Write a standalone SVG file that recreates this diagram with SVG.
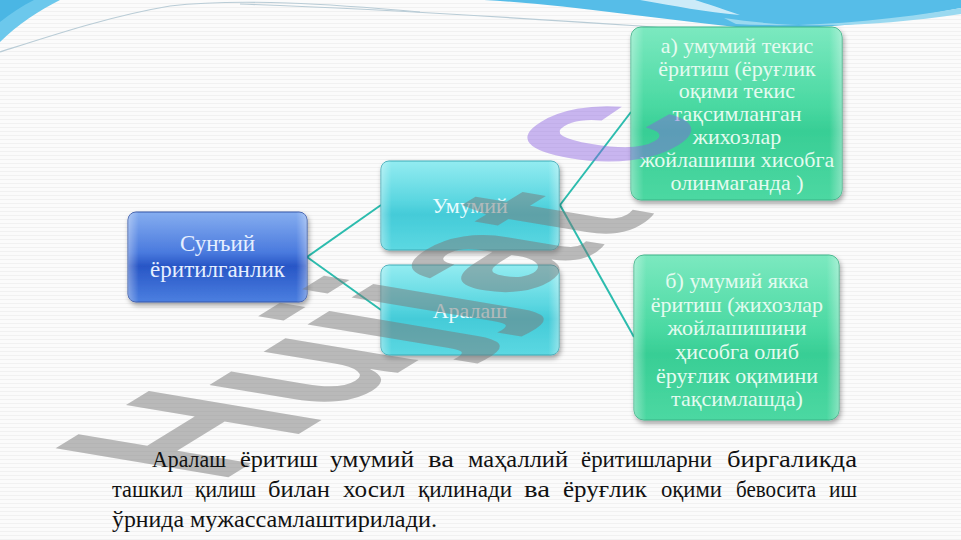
<svg xmlns="http://www.w3.org/2000/svg" width="961" height="540" viewBox="0 0 961 540">
<defs>
  <pattern id="stripes" width="8" height="4" patternUnits="userSpaceOnUse">
    <rect width="8" height="4" fill="#fbfbfb"/>
    <rect y="3" width="8" height="1" fill="#f1f1f1"/>
  </pattern>
  <linearGradient id="gBlue" x1="0" y1="0" x2="0" y2="1">
    <stop offset="0" stop-color="#86aef0"/>
    <stop offset="0.45" stop-color="#4a7ade"/>
    <stop offset="0.6" stop-color="#2856c6"/>
    <stop offset="1" stop-color="#4b7fe0"/>
  </linearGradient>
  <linearGradient id="gCyan" x1="0" y1="0" x2="0" y2="1">
    <stop offset="0" stop-color="#93ecf1"/>
    <stop offset="0.45" stop-color="#5ad6e0"/>
    <stop offset="0.6" stop-color="#44cbd8"/>
    <stop offset="1" stop-color="#5cd8e2"/>
  </linearGradient>
  <linearGradient id="gGreen" x1="0" y1="0" x2="0" y2="1">
    <stop offset="0" stop-color="#7ce9c0"/>
    <stop offset="0.45" stop-color="#4ad9a2"/>
    <stop offset="0.6" stop-color="#38ce95"/>
    <stop offset="1" stop-color="#4cd8a2"/>
  </linearGradient>
  <linearGradient id="gSide" x1="0" y1="0" x2="1" y2="0">
    <stop offset="0" stop-color="#ffffff" stop-opacity="0.35"/>
    <stop offset="0.06" stop-color="#ffffff" stop-opacity="0"/>
    <stop offset="0.94" stop-color="#ffffff" stop-opacity="0"/>
    <stop offset="1" stop-color="#ffffff" stop-opacity="0.35"/>
  </linearGradient>
  <filter id="shadow" x="-10%" y="-10%" width="125%" height="130%">
    <feDropShadow dx="1.5" dy="3" stdDeviation="2.5" flood-color="#000" flood-opacity="0.35"/>
  </filter>
  <style>
    .box { stroke-width: 1; filter: url(#shadow); }
    .blue { fill: url(#gBlue); stroke: #3556a8; }
    .cyan { fill: url(#gCyan); stroke: #3aaab6; }
    .green { fill: url(#gGreen); stroke: #3ab386; }
    .sheen { fill: url(#gSide); stroke: none; }
    .t { font-family: "Liberation Serif", "Times New Roman", "DejaVu Serif", serif; text-anchor: middle; }
    .tb { fill: #e6efff; font-size: 23px; }
    .tc { fill: #eafcff; font-size: 22px; }
    .tg { fill: #e4fbf0; font-size: 22px; }
    .tg2 { fill: #e4fbf0; font-size: 22px; }
    .conn { stroke: #2cbcae; stroke-width: 2; fill: none; }
    .para { font-family: "Liberation Serif", "Times New Roman", "DejaVu Serif", serif; font-size: 24px; fill: #111; }
    .wm { font-family: "Liberation Sans", Arial, sans-serif; font-weight: bold; font-size: 100px; }
  </style>
</defs>

<rect width="961" height="540" fill="url(#stripes)"/>

<g id="decor">
  <path d="M0,0 H60 C40,10 18,24 0,42 Z" fill="#6cc8ec"/>
  <path d="M0,0 H34 C22,6 10,14 0,22 Z" fill="#4ab6e4"/>
  <path d="M484,0 C560,4 650,18 736,27 C800,32 880,24 961,8 V0 Z" fill="#56bde8"/>
  <path d="M724,18 C800,30 880,26 961,14 V8 C880,22 800,28 736,24 Z" fill="#9ad9f0"/>
  <path d="M640,0 C675,6 705,12 740,15 C720,8 705,3 695,0 Z" fill="#ffffff" opacity="0.7"/>
  <path d="M0,52 C50,36 110,16 170,6 C240,-2 330,4 420,12" stroke="#b9ccd6" stroke-width="1.2" fill="none"/>
  <path d="M240,4 C360,8 520,18 640,26 C690,30 720,34 740,36" stroke="#b9ccd6" stroke-width="1.2" fill="none"/>
</g>

<g id="connectors">
  <line class="conn" x1="307" y1="257" x2="381" y2="205"/>
  <line class="conn" x1="307" y1="257" x2="381" y2="310"/>
  <line class="conn" x1="560" y1="205" x2="631" y2="112"/>
  <line class="conn" x1="560" y1="205" x2="634" y2="337"/>
</g>

<g id="node-suniy">
  <rect class="box blue" x="128" y="212" width="179" height="90" rx="8"/>
  <rect class="sheen" x="128" y="212" width="179" height="90" rx="8"/>
  <text class="t tb" x="217.5" y="251">Сунъий</text>
  <text class="t tb" x="217.5" y="277">ёритилганлик</text>
</g>

<g id="node-umumiy">
  <rect class="box cyan" x="381" y="161" width="178" height="89" rx="8"/>
  <rect class="sheen" x="381" y="161" width="178" height="89" rx="8"/>
  <text class="t tc" x="470" y="213">Умумий</text>
</g>

<g id="node-aralash">
  <rect class="box cyan" x="381" y="265" width="178" height="90" rx="8"/>
  <rect class="sheen" x="381" y="265" width="178" height="90" rx="8"/>
  <text class="t tc" x="470" y="318">Аралаш</text>
</g>

<g id="node-a">
  <rect class="box green" x="631" y="27" width="211" height="173" rx="10"/>
  <rect class="sheen" x="631" y="27" width="211" height="173" rx="10"/>
  <text class="t tg" x="737" y="53">а) умумий текис</text>
  <text class="t tg" x="737" y="76">ёритиш (ёруғлик</text>
  <text class="t tg" x="737" y="98">оқими текис</text>
  <text class="t tg" x="737" y="121">тақсимланган</text>
  <text class="t tg" x="737" y="144">жихозлар</text>
  <text class="t tg" x="737" y="167">жойлашиши хисобга</text>
  <text class="t tg" x="737" y="190">олинмаганда )</text>
</g>

<g id="node-b">
  <rect class="box green" x="634" y="255" width="205" height="165" rx="10"/>
  <rect class="sheen" x="634" y="255" width="205" height="165" rx="10"/>
  <text class="t tg2" x="737" y="288">б) умумий якка</text>
  <text class="t tg2" x="737" y="312">ёритиш (жихозлар</text>
  <text class="t tg2" x="737" y="335">жойлашишини</text>
  <text class="t tg2" x="737" y="359">ҳисобга олиб</text>
  <text class="t tg2" x="737" y="383">ёруғлик оқимини</text>
  <text class="t tg2" x="737" y="406">тақсимлашда)</text>
</g>

<g id="watermark">
  <text class="wm" transform="matrix(1.585,-0.976,2.51,0.42,217.8,483.7)"><tspan fill="#777777" fill-opacity="0.5">Hujjat</tspan><tspan dx="28" dy="-29" fill="#8a60e0" fill-opacity="0.45">c</tspan></text>
</g>

<g id="paragraph">
  <text class="para" x="152" y="467" textLength="74" lengthAdjust="spacingAndGlyphs">Аралаш</text>
  <text class="para" x="240" y="467" textLength="78" lengthAdjust="spacingAndGlyphs">ёритиш</text>
  <text class="para" x="330" y="467" textLength="84" lengthAdjust="spacingAndGlyphs">умумий</text>
  <text class="para" x="428" y="467" textLength="26" lengthAdjust="spacingAndGlyphs">ва</text>
  <text class="para" x="468" y="467" textLength="100" lengthAdjust="spacingAndGlyphs">маҳаллий</text>
  <text class="para" x="581" y="467" textLength="131" lengthAdjust="spacingAndGlyphs">ёритишларни</text>
  <text class="para" x="727" y="467" textLength="130" lengthAdjust="spacingAndGlyphs">биргаликда</text>

  <text class="para" x="112" y="497" textLength="71" lengthAdjust="spacingAndGlyphs">ташкил</text>
  <text class="para" x="195" y="497" textLength="61" lengthAdjust="spacingAndGlyphs">қилиш</text>
  <text class="para" x="268" y="497" textLength="62" lengthAdjust="spacingAndGlyphs">билан</text>
  <text class="para" x="343" y="497" textLength="62" lengthAdjust="spacingAndGlyphs">хосил</text>
  <text class="para" x="418" y="497" textLength="94" lengthAdjust="spacingAndGlyphs">қилинади</text>
  <text class="para" x="524" y="497" textLength="26" lengthAdjust="spacingAndGlyphs">ва</text>
  <text class="para" x="563" y="497" textLength="84" lengthAdjust="spacingAndGlyphs">ёруғлик</text>
  <text class="para" x="661" y="497" textLength="61" lengthAdjust="spacingAndGlyphs">оқими</text>
  <text class="para" x="736" y="497" textLength="80" lengthAdjust="spacingAndGlyphs">бевосита</text>
  <text class="para" x="829" y="497" textLength="28" lengthAdjust="spacingAndGlyphs">иш</text>

  <text class="para" x="112" y="527" textLength="72" lengthAdjust="spacingAndGlyphs">ўрнида</text>
  <text class="para" x="190" y="527" textLength="247" lengthAdjust="spacingAndGlyphs">мужассамлаштирилади.</text>
</g>
</svg>
